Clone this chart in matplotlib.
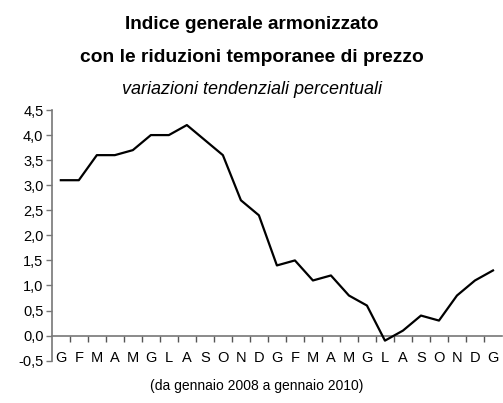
"""
Indice generale armonizzato - variazioni tendenziali percentuali.
"""

import matplotlib
matplotlib.use('Agg')
import matplotlib.pyplot as plt
from matplotlib.ticker import FixedLocator, FuncFormatter

plt.rcParams['font.family'] = ['Liberation Sans', 'DejaVu Sans']

mesi = ['G', 'F', 'M', 'A', 'M', 'G', 'L', 'A', 'S', 'O', 'N', 'D',
        'G', 'F', 'M', 'A', 'M', 'G', 'L', 'A', 'S', 'O', 'N', 'D', 'G']
valori = [3.1, 3.1, 3.6, 3.6, 3.7, 4.0, 4.0, 4.2, 3.9, 3.6, 2.7, 2.4,
          1.4, 1.5, 1.1, 1.2, 0.8, 0.6, -0.1, 0.1, 0.4, 0.3, 0.8, 1.1, 1.3]
y_ticks = [-0.5, 0.0, 0.5, 1.0, 1.5, 2.0, 2.5, 3.0, 3.5, 4.0, 4.5]


def crea_grafico():
    fig = plt.figure(figsize=(5.03, 4.03), dpi=100)
    ax = fig.add_axes([0.103, 0.105, 0.895, 0.622])

    x = list(range(len(valori)))
    ax.plot(x, valori, color='black', linewidth=1.6)

    ax.set_xlim(-0.5, len(valori) - 0.5)
    ax.set_ylim(-0.5, 4.5)

    ax.set_yticks(y_ticks)
    ax.yaxis.set_major_formatter(
        FuncFormatter(lambda v, p: f'{v:.1f}'.replace('.', ',')))
    ax.tick_params(axis='y', direction='out', length=4, width=1,
                   color='#777777', labelsize=10.5, pad=2)

    ax.set_xticks(x)
    ax.set_xticklabels(mesi)
    ax.tick_params(axis='x', length=0, labelsize=10.5, pad=-7)

    for s in ['top', 'right', 'bottom']:
        ax.spines[s].set_visible(False)
    ax.spines['left'].set_color('#777777')
    ax.spines['left'].set_linewidth(1.2)

    # asse delle categorie all'altezza dello zero
    sec = ax.secondary_xaxis(0.1)
    sec.spines['bottom'].set_color('#777777')
    sec.spines['bottom'].set_linewidth(1.2)
    sec.xaxis.set_major_locator(FixedLocator([i + 0.5 for i in x[:-1]]))
    sec.tick_params(axis='x', direction='out', length=4, width=1,
                    color='#555555', labelbottom=False)

    fig.text(0.5, 0.938, 'Indice generale armonizzato', ha='center',
             va='center', fontsize=13.7, fontweight='bold')
    fig.text(0.5, 0.858, 'con le riduzioni temporanee di prezzo',
             ha='center', va='center', fontsize=13.9, fontweight='bold')
    fig.text(0.5, 0.779, 'variazioni tendenziali percentuali', ha='center',
             va='center', fontsize=13, style='italic')
    fig.text(0.51, 0.042, '(da gennaio 2008 a gennaio 2010)', ha='center',
             va='center', fontsize=10)

    fig.savefig('out.png', dpi=100)


crea_grafico()
